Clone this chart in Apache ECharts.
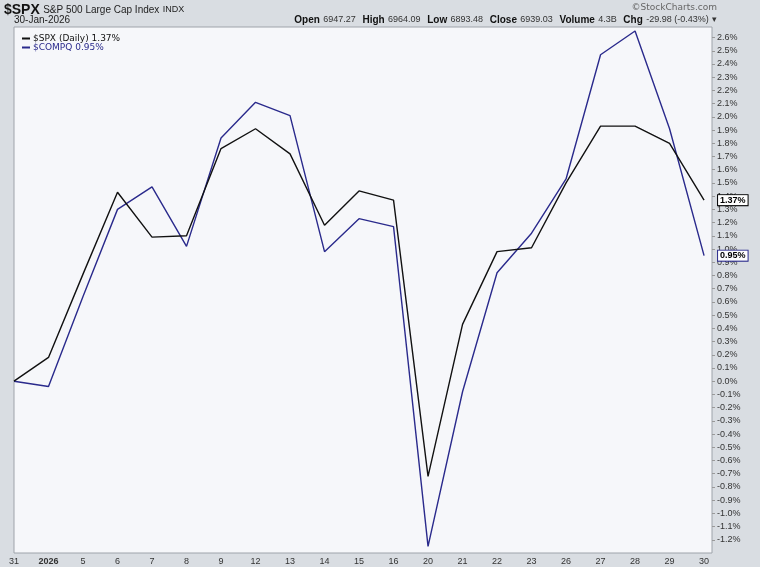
<!DOCTYPE html>
<html>
<head>
<meta charset="utf-8">
<script src="https://cdn.jsdelivr.net/npm/echarts@6/dist/echarts.min.js"></script>
<style>
  html, body { margin: 0; padding: 0; background: #d9dde2; }
  #chart { width: 760px; height: 567px; }
</style>
</head>
<body>
<div id="chart"></div>
<script>
// trading days, Dec 31 -> Jan 30
const dayLabels = ['31', '2026', '5', '6', '7', '8', '9', '12', '13', '14', '15', '16', '20', '21', '22', '23', '26', '27', '28', '29', '30']
// % change since 31-Dec
const spxValues = [0.0, 0.18, 0.81, 1.43, 1.09, 1.10, 1.76, 1.91, 1.72, 1.18, 1.44, 1.37, -0.72, 0.43, 0.98, 1.01, 1.50, 1.93, 1.93, 1.80, 1.37]
const compqValues = [0.0, -0.04, 0.64, 1.30, 1.47, 1.02, 1.84, 2.11, 2.01, 0.98, 1.23, 1.17, -1.25, -0.08, 0.82, 1.12, 1.53, 2.47, 2.65, 1.91, 0.95]

const spxColor = '#111111'
const compqColor = '#2a2a8c'

const chart = echarts.init(document.getElementById('chart'))

const toPairs = arr => arr.map((v, i) => [i, v])

// last-value tag shown in the right margin
const tagLabel = (text, border) => ({
  show: true,
  distance: 14,
  formatter: text,
  fontSize: 9,
  fontWeight: 'bold',
  color: '#000',
  backgroundColor: '#fff',
  borderColor: border,
  borderWidth: 1,
  padding: [1, 2, 0, 2]
})

const option = {
  backgroundColor: '#d9dde2',
  animation: false,
  textStyle: { fontFamily: 'Liberation Sans, Arial, sans-serif' },
  grid: {
    left: 14,
    right: 48,
    top: 27,
    bottom: 14,
    show: true,
    backgroundColor: '#f6f7fa',
    borderColor: '#9ea3aa',
    borderWidth: 1
  },
  legend: {
    orient: 'vertical',
    left: 17,
    top: 29,
    itemWidth: 8,
    itemHeight: 2,
    itemGap: 0,
    icon: 'rect',
    data: [
      { name: '$SPX (Daily) 1.37%', textStyle: { color: spxColor } },
      { name: '$COMPQ 0.95%', textStyle: { color: compqColor } }
    ],
    textStyle: { fontSize: 9, fontFamily: 'DejaVu Sans', padding: [0, 0, 0, -2] }
  },
  xAxis: {
    type: 'value',
    min: 0,
    max: 20.23,
    interval: 1,
    splitLine: { show: false },
    axisLine: { show: false, onZero: false },
    axisTick: { show: false },
    axisLabel: {
      margin: 4,
      fontSize: 9,
      color: '#333',
      formatter: v => {
        if (!Number.isInteger(v)) return ''
        const s = dayLabels[v] || ''
        return s === '2026' ? '{b|2026}' : s
      },
      rich: { b: { fontWeight: 'bold', fontSize: 9, color: '#333' } }
    }
  },
  yAxis: {
    type: 'value',
    position: 'right',
    min: -1.3,
    max: 2.68,
    interval: 0.1,
    splitLine: { show: false },
    axisLine: { show: false, onZero: false },
    axisTick: { show: true, length: 3, lineStyle: { color: '#999' } },
    axisLabel: {
      margin: 5,
      fontSize: 9,
      color: '#333',
      showMinLabel: false,
      showMaxLabel: false,
      formatter: v => {
        const r = Math.round(v * 10) / 10
        if (Math.abs(r - v) > 0.001) return ''
        const s = r.toFixed(1)
        return (s === '-0.0' ? '0.0' : s) + '%'
      }
    }
  },
  series: [
    {
      name: '$SPX (Daily) 1.37%',
      type: 'line',
      data: toPairs(spxValues),
      symbol: 'none',
      lineStyle: { color: spxColor, width: 1.4 },
      itemStyle: { color: spxColor },
      endLabel: tagLabel('1.37%', '#000'),
      z: 3
    },
    {
      name: '$COMPQ 0.95%',
      type: 'line',
      data: toPairs(compqValues),
      symbol: 'none',
      lineStyle: { color: compqColor, width: 1.4 },
      itemStyle: { color: compqColor },
      endLabel: tagLabel('0.95%', compqColor),
      z: 2
    }
  ],
  graphic: [
    {
      type: 'text',
      left: 4,
      top: 3,
      style: {
        text: '{a|$SPX} {b|S&P 500 Large Cap Index} {c|INDX}',
        rich: {
          a: { fontSize: 14, fontWeight: 'bold', fill: '#111', fontFamily: 'Liberation Sans' },
          b: { fontSize: 10, fill: '#222', fontFamily: 'Liberation Sans' },
          c: { fontSize: 9, fill: '#222', fontFamily: 'Liberation Sans' }
        }
      }
    },
    {
      type: 'text',
      left: 14,
      top: 15,
      style: { text: '30-Jan-2026', fontSize: 10, fill: '#222', fontFamily: 'Liberation Sans' }
    },
    {
      type: 'text',
      right: 43,
      top: 3,
      style: { text: '©StockCharts.com', fontSize: 9, fill: '#666', fontFamily: 'DejaVu Sans' }
    },
    {
      type: 'text',
      right: 43,
      top: 14,
      style: {
        text: '{k|Open} {v|6947.27}  {k|High} {v|6964.09}  {k|Low} {v|6893.48}  {k|Close} {v|6939.03}  {k|Volume} {v|4.3B}  {k|Chg} {v|-29.98 (-0.43%)} {v|▾}',
        rich: {
          k: { fontSize: 10, fontWeight: 'bold', fill: '#111', fontFamily: 'Liberation Sans' },
          v: { fontSize: 9, fill: '#333', fontFamily: 'Liberation Sans' }
        }
      }
    }
  ]
}

chart.setOption(option)
</script>
</body>
</html>
